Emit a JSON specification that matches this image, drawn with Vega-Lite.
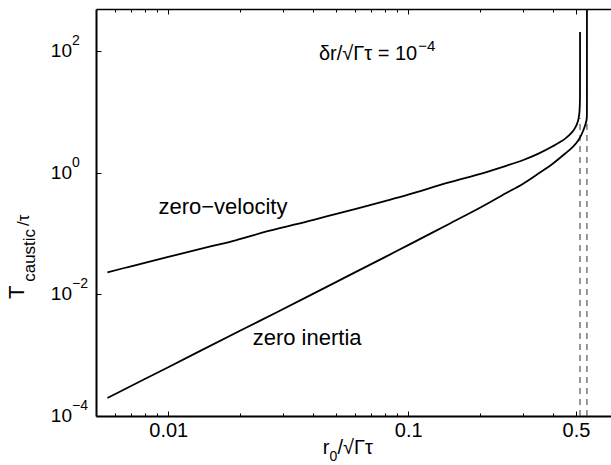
{
  "$schema": "https://vega.github.io/schema/vega-lite/v6.json",
  "width": 515,
  "height": 407,
  "autosize": {"type": "none"},
  "padding": {"left": 96, "top": 9, "right": 0, "bottom": 49},
  "background": "white",
  "config": {
    "font": "Liberation Sans",
    "view": {"stroke": null},
    "axis": {
      "grid": false,
      "title": null,
      "labelFont": "Liberation Sans",
      "labelFontSize": 20,
      "labelColor": "black",
      "tickColor": "black",
      "domainColor": "black"
    },
    "text": {"font": "Liberation Sans", "color": "black"}
  },
  "datasets": {
    "curves": [
      {"s": "v", "i": 0, "r": 0.00558, "T": 0.0232},
      {"s": "v", "i": 1, "r": 0.007, "T": 0.0291},
      {"s": "v", "i": 2, "r": 0.01, "T": 0.0415},
      {"s": "v", "i": 3, "r": 0.015, "T": 0.0618},
      {"s": "v", "i": 4, "r": 0.0191, "T": 0.078},
      {"s": "v", "i": 5, "r": 0.0265, "T": 0.112},
      {"s": "v", "i": 6, "r": 0.04, "T": 0.168},
      {"s": "v", "i": 7, "r": 0.06, "T": 0.255},
      {"s": "v", "i": 8, "r": 0.08, "T": 0.345},
      {"s": "v", "i": 9, "r": 0.1, "T": 0.44},
      {"s": "v", "i": 10, "r": 0.148, "T": 0.70},
      {"s": "v", "i": 11, "r": 0.2, "T": 0.97},
      {"s": "v", "i": 12, "r": 0.254, "T": 1.30},
      {"s": "v", "i": 13, "r": 0.3, "T": 1.62},
      {"s": "v", "i": 14, "r": 0.349, "T": 2.08},
      {"s": "v", "i": 15, "r": 0.4, "T": 2.75},
      {"s": "v", "i": 16, "r": 0.451, "T": 3.68},
      {"s": "v", "i": 17, "r": 0.48, "T": 4.6},
      {"s": "v", "i": 18, "r": 0.498, "T": 5.7},
      {"s": "v", "i": 19, "r": 0.51, "T": 7.2},
      {"s": "v", "i": 20, "r": 0.5165, "T": 9.5},
      {"s": "v", "i": 21, "r": 0.5192, "T": 14},
      {"s": "v", "i": 22, "r": 0.52, "T": 30},
      {"s": "v", "i": 23, "r": 0.52, "T": 209},
      {"s": "i", "i": 0, "r": 0.00558, "T": 0.000198},
      {"s": "i", "i": 1, "r": 0.01, "T": 0.000636},
      {"s": "i", "i": 2, "r": 0.02, "T": 0.00255},
      {"s": "i", "i": 3, "r": 0.0281, "T": 0.005},
      {"s": "i", "i": 4, "r": 0.05, "T": 0.016},
      {"s": "i", "i": 5, "r": 0.08, "T": 0.0412},
      {"s": "i", "i": 6, "r": 0.1, "T": 0.065},
      {"s": "i", "i": 7, "r": 0.148, "T": 0.145},
      {"s": "i", "i": 8, "r": 0.2, "T": 0.27},
      {"s": "i", "i": 9, "r": 0.254, "T": 0.458},
      {"s": "i", "i": 10, "r": 0.3, "T": 0.66},
      {"s": "i", "i": 11, "r": 0.349, "T": 0.98},
      {"s": "i", "i": 12, "r": 0.4, "T": 1.42},
      {"s": "i", "i": 13, "r": 0.451, "T": 2.09},
      {"s": "i", "i": 14, "r": 0.49, "T": 2.8},
      {"s": "i", "i": 15, "r": 0.512, "T": 3.45},
      {"s": "i", "i": 16, "r": 0.537, "T": 5.05},
      {"s": "i", "i": 17, "r": 0.5535, "T": 7.37},
      {"s": "i", "i": 18, "r": 0.5555, "T": 12},
      {"s": "i", "i": 19, "r": 0.5557, "T": 30},
      {"s": "i", "i": 20, "r": 0.5557, "T": 500}
    ],
    "asym": [
      {"r": 0.52, "y0": 0.0001, "y1": 8},
      {"r": 0.5557, "y0": 0.0001, "y1": 8}
    ],
    "yticks": [
      {"v": 0.0001, "base": "10", "exp": "−4"},
      {"v": 0.01, "base": "10", "exp": "−2"},
      {"v": 1, "base": "10", "exp": "0"},
      {"v": 100, "base": "10", "exp": "2"}
    ],
    "labels": [
      {"role": "anno", "text": "zero−velocity", "x": 0.0169, "y": 0.272},
      {"role": "anno", "text": "zero inertia", "x": 0.0379, "y": 0.0019},
      {"role": "annoR", "text": "δr/√Γτ = 10", "x": 0.109, "y": 90},
      {"role": "annoSup", "text": "−4", "x": 0.109, "y": 122},
      {"role": "ytitle", "text": "T", "x": 0.002343, "y": 0.01087},
      {"role": "ysub", "text": "caustic", "x": 0.002655, "y": 0.0441},
      {"role": "ysub", "text": "/τ", "x": 0.002506, "y": 0.1664},
      {"role": "xtitleR", "text": "r", "x": 0.047, "y": 0.0000234},
      {"role": "xsub", "text": "0", "x": 0.047, "y": 0.000018},
      {"role": "xtitleL", "text": "/√Γτ", "x": 0.0507, "y": 0.0000234}
    ]
  },
  "layer": [
    {
      "data": {"name": "asym"},
      "mark": {"type": "rule", "color": "#333333", "strokeWidth": 1, "strokeDash": [6, 5]},
      "encoding": {
        "x": {"field": "r", "type": "quantitative", "scale": {"type": "log", "domain": [0.005, 0.7], "nice": false},
              "axis": {"orient": "bottom", "values": [0.006, 0.007, 0.008, 0.009, 0.02, 0.03, 0.04, 0.05, 0.06, 0.07, 0.08, 0.09, 0.2, 0.3, 0.4], "labels": false, "domain": false, "tickSize": -3, "tickWidth": 1}},
        "y": {"field": "y0", "type": "quantitative", "scale": {"type": "log", "domain": [0.0001, 500], "nice": false}, "axis": null},
        "y2": {"field": "y1"}
      }
    },
    {
      "data": {"name": "curves"},
      "mark": {"type": "line", "color": "black", "strokeWidth": 1.8, "clip": true, "interpolate": "catmull-rom"},
      "encoding": {
        "x": {"field": "r", "type": "quantitative", "scale": {"type": "log", "domain": [0.005, 0.7], "nice": false},
              "axis": {"orient": "bottom", "values": [0.01, 0.1, 0.5], "labelExpr": "datum.value < 0.05 ? '0.01' : datum.value < 0.3 ? '0.1' : '0.5'", "domainWidth": 2, "tickSize": -5, "tickWidth": 1, "labelPadding": 9}},
        "y": {"field": "T", "type": "quantitative", "scale": {"type": "log", "domain": [0.0001, 500], "nice": false},
              "axis": {"orient": "left", "values": [0.0001, 0.01, 1, 100], "labels": false, "domainWidth": 2, "tickSize": -5, "tickWidth": 1}},
        "detail": {"field": "s"},
        "order": {"field": "i", "type": "quantitative"}
      }
    },
    {
      "data": {"name": "yticks"},
      "mark": {"type": "text", "fontSize": 19, "align": "right", "baseline": "middle", "dx": -24},
      "encoding": {
        "x": {"datum": 0.005, "type": "quantitative", "scale": {"type": "log", "domain": [0.005, 0.7], "nice": false}, "axis": null},
        "y": {"field": "v", "type": "quantitative", "scale": {"type": "log", "domain": [0.0001, 500], "nice": false}, "axis": null},
        "text": {"field": "base"}
      }
    },
    {
      "data": {"name": "yticks"},
      "mark": {"type": "text", "fontSize": 14, "align": "left", "baseline": "middle", "dx": -24, "dy": -10},
      "encoding": {
        "x": {"datum": 0.005, "type": "quantitative", "scale": {"type": "log", "domain": [0.005, 0.7], "nice": false}, "axis": null},
        "y": {"field": "v", "type": "quantitative", "scale": {"type": "log", "domain": [0.0001, 500], "nice": false}, "axis": null},
        "text": {"field": "exp"}
      }
    },
    {
      "data": {"name": "labels"},
      "transform": [{"filter": "datum.role == 'anno'"}],
      "mark": {"type": "text", "fontSize": 22, "align": "center", "baseline": "middle"},
      "encoding": {
        "x": {"field": "x", "type": "quantitative", "scale": {"type": "log", "domain": [0.005, 0.7], "nice": false},
              "axis": {"orient": "top", "values": [0.01, 0.1, 0.5], "labels": false, "domainWidth": 1.5, "tickSize": -5, "tickWidth": 1}},
        "y": {"field": "y", "type": "quantitative", "scale": {"type": "log", "domain": [0.0001, 500], "nice": false}, "axis": null},
        "text": {"field": "text"}
      }
    },
    {
      "data": {"name": "labels"},
      "transform": [{"filter": "datum.role == 'annoR'"}],
      "mark": {"type": "text", "fontSize": 20, "align": "right", "baseline": "middle"},
      "encoding": {
        "x": {"field": "x", "type": "quantitative", "scale": {"type": "log", "domain": [0.005, 0.7], "nice": false},
              "axis": {"orient": "top", "values": [0.006, 0.007, 0.008, 0.009, 0.02, 0.03, 0.04, 0.05, 0.06, 0.07, 0.08, 0.09, 0.2, 0.3, 0.4], "labels": false, "domain": false, "tickSize": -3, "tickWidth": 1}},
        "y": {"field": "y", "type": "quantitative", "scale": {"type": "log", "domain": [0.0001, 500], "nice": false}, "axis": null},
        "text": {"field": "text"}
      }
    },
    {
      "data": {"name": "labels"},
      "transform": [{"filter": "datum.role == 'annoSup'"}],
      "mark": {"type": "text", "fontSize": 15, "align": "left", "baseline": "middle", "dx": 1},
      "encoding": {
        "x": {"field": "x", "type": "quantitative", "scale": {"type": "log", "domain": [0.005, 0.7], "nice": false}, "axis": null},
        "y": {"field": "y", "type": "quantitative", "scale": {"type": "log", "domain": [0.0001, 500], "nice": false}, "axis": null},
        "text": {"field": "text"}
      }
    },
    {
      "data": {"name": "labels"},
      "transform": [{"filter": "datum.role == 'ytitle'"}],
      "mark": {"type": "text", "fontSize": 22, "align": "center", "baseline": "middle", "angle": 270},
      "encoding": {
        "x": {"field": "x", "type": "quantitative", "scale": {"type": "log", "domain": [0.005, 0.7], "nice": false}, "axis": null},
        "y": {"field": "y", "type": "quantitative", "scale": {"type": "log", "domain": [0.0001, 500], "nice": false}, "axis": null},
        "text": {"field": "text"},
        "angle": {"value": 270}
      }
    },
    {
      "data": {"name": "labels"},
      "transform": [{"filter": "datum.role == 'ysub'"}],
      "mark": {"type": "text", "fontSize": 17, "align": "center", "baseline": "middle", "angle": 270},
      "encoding": {
        "x": {"field": "x", "type": "quantitative", "scale": {"type": "log", "domain": [0.005, 0.7], "nice": false}, "axis": null},
        "y": {"field": "y", "type": "quantitative", "scale": {"type": "log", "domain": [0.0001, 500], "nice": false}, "axis": null},
        "text": {"field": "text"},
        "angle": {"value": 270}
      }
    },
    {
      "data": {"name": "labels"},
      "transform": [{"filter": "datum.role == 'xtitleR'"}],
      "mark": {"type": "text", "fontSize": 20, "align": "right", "baseline": "alphabetic"},
      "encoding": {
        "x": {"field": "x", "type": "quantitative", "scale": {"type": "log", "domain": [0.005, 0.7], "nice": false}, "axis": null},
        "y": {"field": "y", "type": "quantitative", "scale": {"type": "log", "domain": [0.0001, 500], "nice": false}, "axis": null},
        "text": {"field": "text"}
      }
    },
    {
      "data": {"name": "labels"},
      "transform": [{"filter": "datum.role == 'xsub'"}],
      "mark": {"type": "text", "fontSize": 14, "align": "left", "baseline": "alphabetic"},
      "encoding": {
        "x": {"field": "x", "type": "quantitative", "scale": {"type": "log", "domain": [0.005, 0.7], "nice": false}, "axis": null},
        "y": {"field": "y", "type": "quantitative", "scale": {"type": "log", "domain": [0.0001, 500], "nice": false}, "axis": null},
        "text": {"field": "text"}
      }
    },
    {
      "data": {"name": "labels"},
      "transform": [{"filter": "datum.role == 'xtitleL'"}],
      "mark": {"type": "text", "fontSize": 20, "align": "left", "baseline": "alphabetic"},
      "encoding": {
        "x": {"field": "x", "type": "quantitative", "scale": {"type": "log", "domain": [0.005, 0.7], "nice": false}, "axis": null},
        "y": {"field": "y", "type": "quantitative", "scale": {"type": "log", "domain": [0.0001, 500], "nice": false}, "axis": null},
        "text": {"field": "text"}
      }
    }
  ],
  "resolve": {"axis": {"x": "independent", "y": "independent"}}
}
